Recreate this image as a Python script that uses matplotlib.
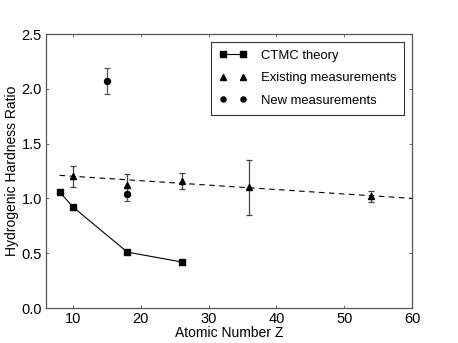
import matplotlib
matplotlib.use("Agg")
import matplotlib.pyplot as plt
import numpy as np

plt.rcParams['font.family'] = ['Liberation Sans', 'DejaVu Sans']

ctmc_z = [8, 10, 18, 26]
ctmc_y = [1.06, 0.92, 0.51, 0.42]

exist_z = [10, 18, 26, 36, 54]
exist_y = [1.20, 1.12, 1.16, 1.10, 1.02]
exist_err = [0.10, 0.10, 0.07, 0.25, 0.05]

new_z = [15, 18]
new_y = [2.07, 1.04]
new_err = [0.12, 0.06]

fit_z = [8, 60]
fit_y = [1.21, 1.00]

fig = plt.figure(figsize=(4.58, 3.43), dpi=100)
ax = fig.add_axes([46/458, 1-308/343, 366/458, 274/343])

ax.plot(fit_z, fit_y, '--', color='black', lw=0.8, dashes=(5, 4))
ax.errorbar(exist_z, exist_y, yerr=exist_err, fmt='none', ecolor='#444444', elinewidth=0.9, capsize=2.5, capthick=0.9)
ax.errorbar(new_z, new_y, yerr=new_err, fmt='none', ecolor='#555555', elinewidth=0.9, capsize=2.5, capthick=0.9)
ax.plot(ctmc_z, ctmc_y, '-s', color='black', lw=0.8, ms=4.3, label='CTMC theory')
ax.plot(exist_z, exist_y, '^', color='black', ms=4.3, ls='none', label='Existing measurements')
ax.plot(new_z, new_y, 'o', color='black', ms=4.3, ls='none', label='New measurements')

ax.set_xlim(6, 60)
ax.set_ylim(0, 2.5)
ax.set_xticks([10, 20, 30, 40, 50, 60])
ax.set_yticks([0, 0.5, 1.0, 1.5, 2.0, 2.5])
ax.set_yticklabels(['0.0', '0.5', '1.0', '1.5', '2.0', '2.5'])
ax.tick_params(direction='in', top=True, right=True, length=2.5, width=0.6, colors='#555555', labelcolor='black', labelsize=10.5, pad=3)
for s in ax.spines.values():
    s.set_color('#555555')
    s.set_linewidth(0.9)
ax.set_xlabel('Atomic Number Z', fontsize=10, labelpad=0)
ax.set_ylabel('Hydrogenic Hardness Ratio', fontsize=10, labelpad=2)

leg = ax.legend(loc='upper right', numpoints=2, fontsize=9.4, fancybox=False, framealpha=1,
                edgecolor='#333333', borderaxespad=0.58, handlelength=2.1, labelspacing=0.8,
                borderpad=0.6, handletextpad=1.1, markerscale=0.85)
leg.get_frame().set_linewidth(0.8)

fig.savefig('out.png', dpi=100)
